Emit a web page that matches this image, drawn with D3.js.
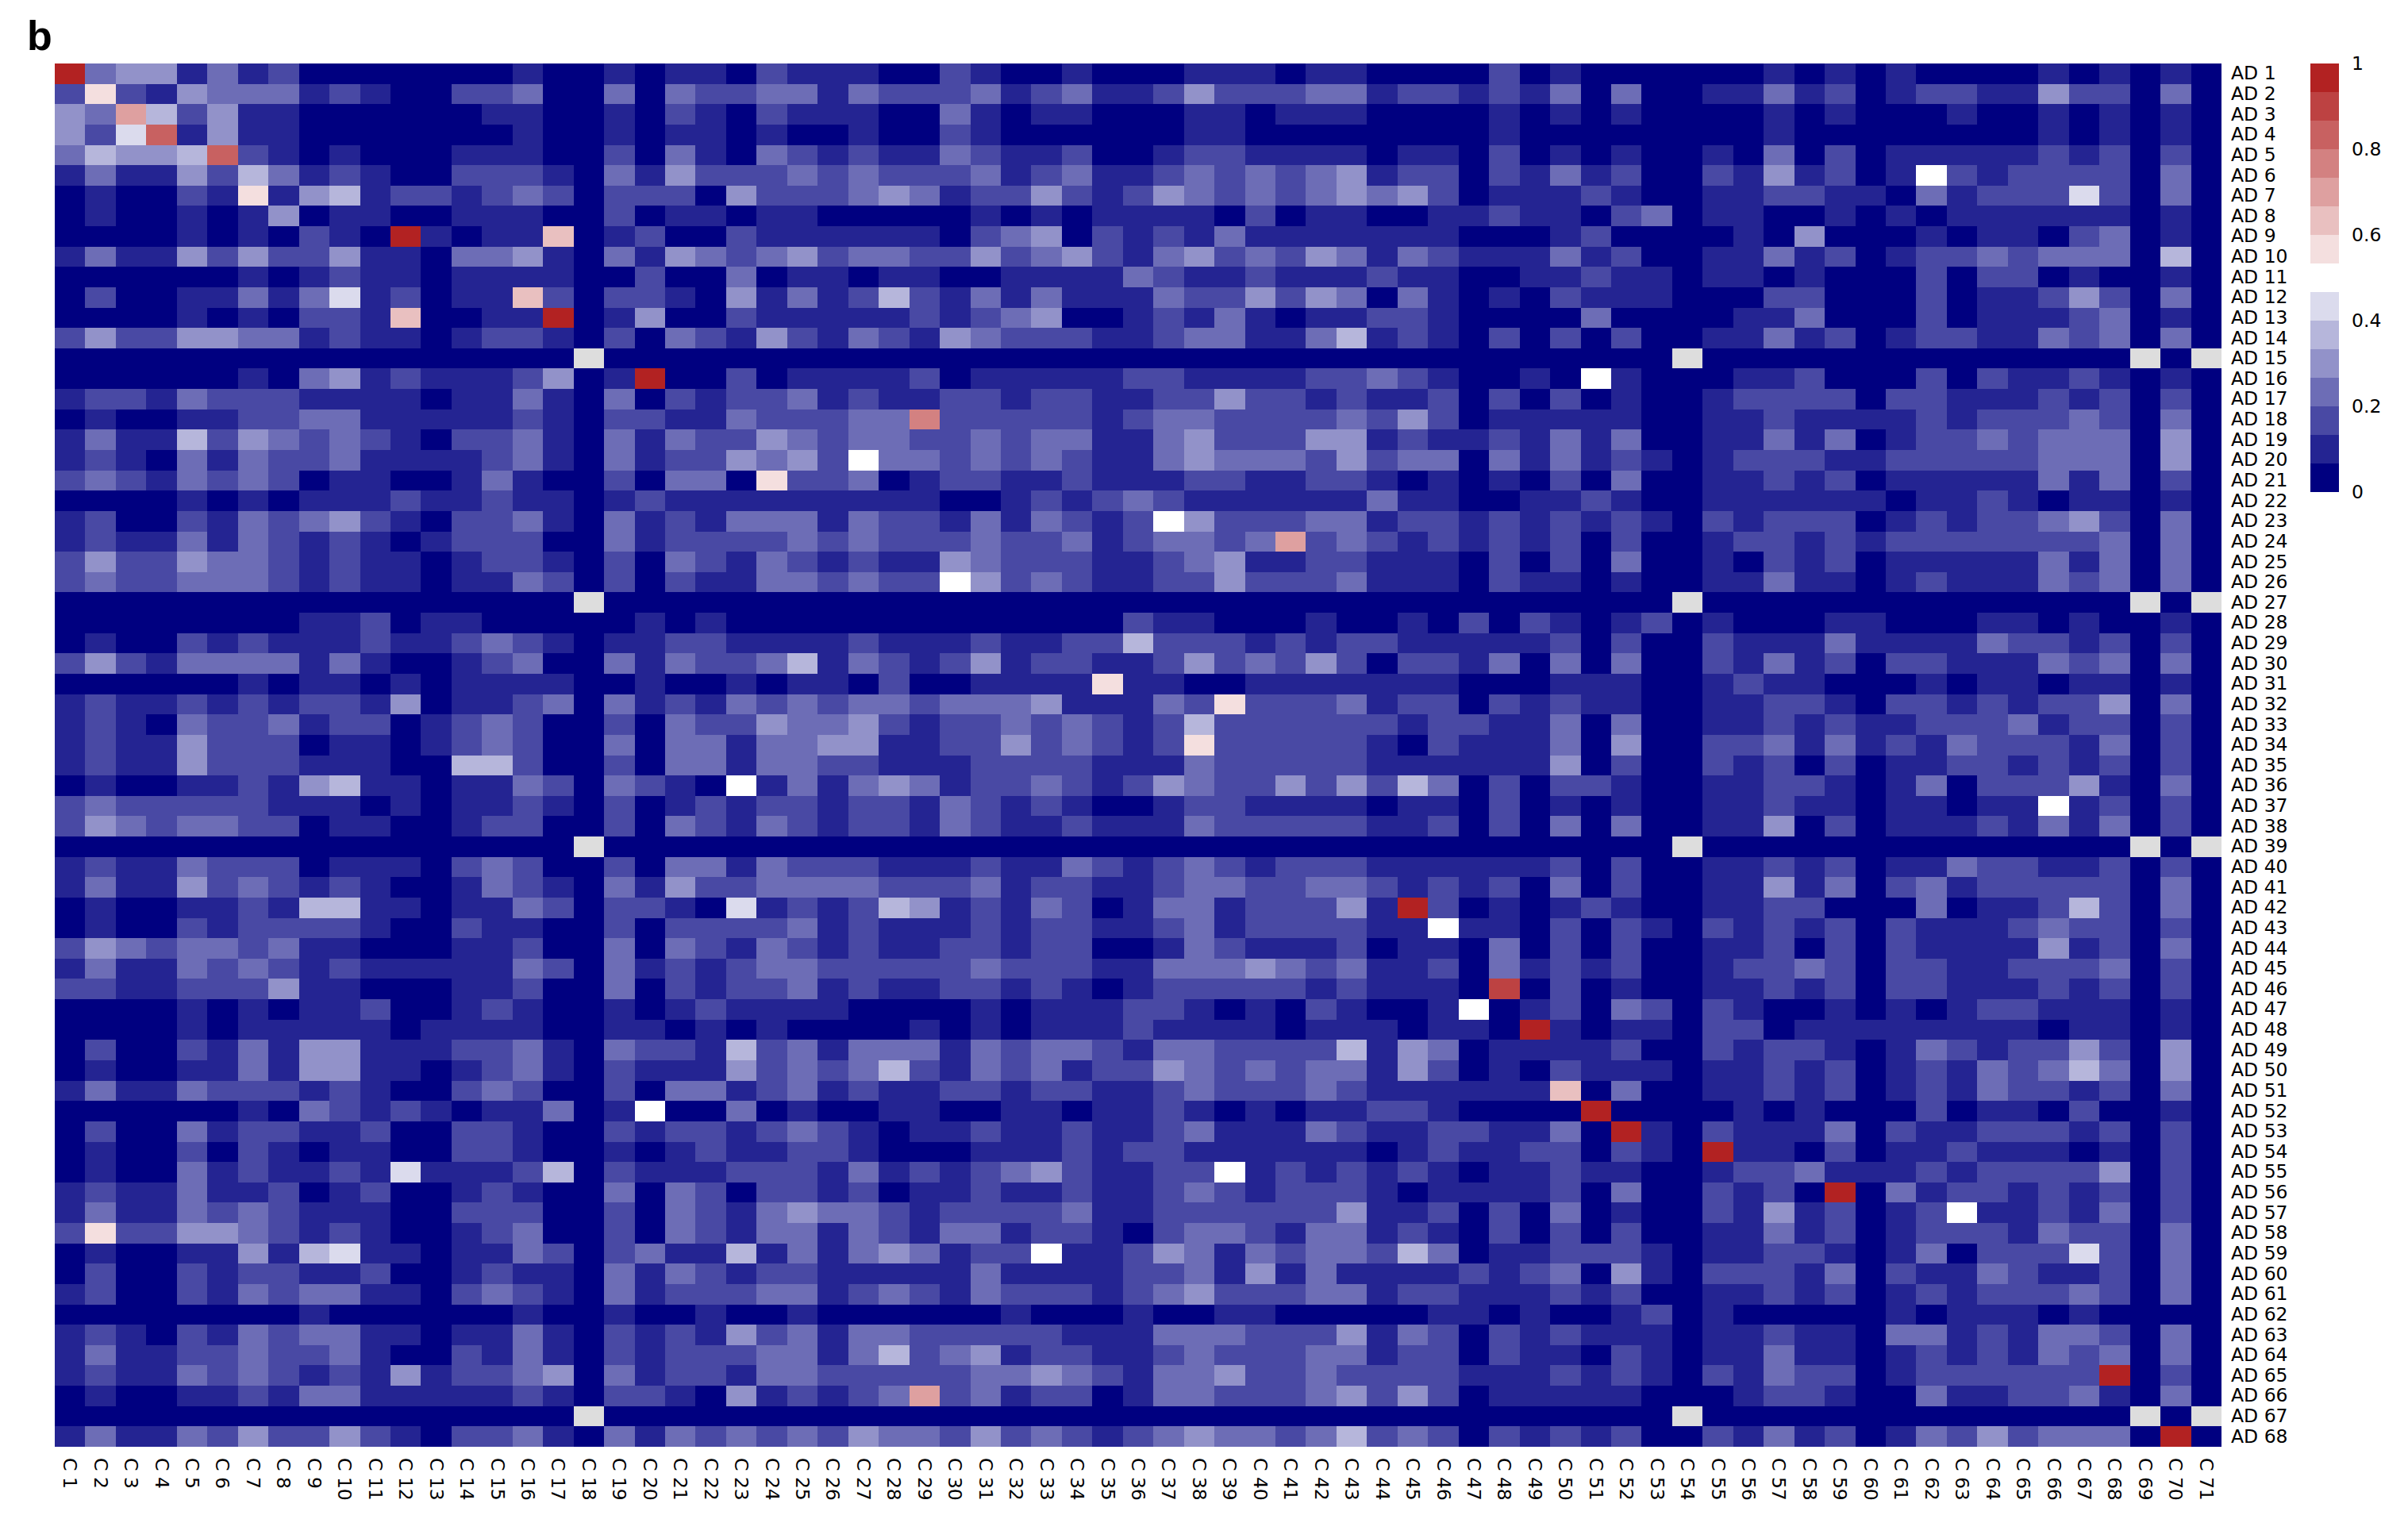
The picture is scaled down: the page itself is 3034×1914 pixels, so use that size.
<!DOCTYPE html>
<html>
<head>
<meta charset="utf-8">
<title>b</title>
<script src="https://cdn.jsdelivr.net/npm/d3@7"></script>
<style>
body { margin: 0; background: #fff; }
svg text { font-family: "DejaVu Sans", sans-serif; fill: #000; }
</style>
</head>
<body>
<svg id="chart" width="3034" height="1914"></svg>
<script>
// one string per AD row, one character per C column: the colour bin read off the
// legend (0-9, a-e = 15 equal bins from 0 to 1), x = no value (grey). spaces only group by ten.
var rowLevels = [
"e344131200 0000010010 1102111002 1001000111 0110000201 0000001010 10000101010",
"2821433312 1002230030 3223313222 3123112422 2331221213 0300113120 12211422030",
"43a5241100 0000110010 2102111003 1011000110 1110000101 0100001010 00100101010",
"426c141100 0000010010 1101001002 1000000110 0000000100 0000001000 00000101010",
"35445c2101 0001110020 3103212113 2112001221 1110110201 0100103020 11111212020",
"1311425312 1002221031 4222323222 3123112323 2341220213 1200214120 17212222030",
"0100218145 1221232022 2042223431 2242124323 2343420111 2100112211 03122262030",
"0100101401 1001110020 1101100000 1010111102 0110011211 0230110010 10111111010",
"0000101021 0e10119012 0021111110 2340212131 1111110001 2000010400 01011023010",
"1311424224 1103341031 4323423322 4234213423 2431321113 1200113120 12232333050",
"0000001012 1101111002 0030110110 0111132112 1112110011 2110110100 02022010010",
"0200113136 1201192022 1041312521 3131113224 2430310102 1110002200 02011242030",
"0000101022 190011e014 0021111121 2340012131 0112210000 3000011300 02011123010",
"2422443312 1101221020 3214213214 3222112331 1351210202 0200113120 12211323030",
"0000000000 0000000x00 0000000000 0000000000 0000000000 000x000000 00000000x0x",
"0000001034 121112401e 0020111120 1111122111 1223210010 7100011200 02021121010",
"1221322211 1101131030 2122312112 2122112242 2121120202 0100122220 22111212020",
"0100112233 1111121022 11322233b2 2222123322 2232420111 1100112111 12122232030",
"1311524323 2102231031 3224323322 3233113422 2441211213 1300113130 12232333040",
"1210313223 1111231031 2243427332 3232113433 3242330313 1210122211 22222333040",
"2321323201 1001310020 3308223012 2112111221 1221010102 0300112120 11111313020",
"0000101011 1211211012 1111111110 0121232111 1113110011 2100111111 01121011010",
"1200213234 2102231031 2133313221 3132127422 2331221212 1210212220 12122342030",
"1211313212 1012220031 2222323222 3223123323 a232121212 0200122121 22222223030",
"2422433212 1101221020 3213212114 3222112341 1221110202 0300102120 11111313030",
"2322333212 1101132020 2113323227 4232112242 2231110211 0100113110 12111323030",
"0000000000 0000000x00 0000000000 0000000000 0000000000 000x000000 00000000x0x",
"0000000011 2011000001 0100000000 0000021100 0100102021 0120100011 00011010010",
"0100212111 2112321011 2211112111 2112252221 2122111112 0200211131 11132212020",
"2421333313 1001230031 3223513212 4122112423 2420221303 0300213120 22111323030",
"0000001011 0101111001 0010110200 1111811001 1111110001 1100121100 01011011010",
"1211212122 1401123031 2132323323 3341113282 2231220212 1100112210 22121224030",
"1210322312 2012320020 3224334212 2323212522 2222122113 0300112121 12223122020",
"1211422201 1012320030 3313344112 2423212822 2221021113 0400223131 21322213020",
"1211422211 1005520020 3313322111 2222111322 2221111114 0200212020 11221212020",
"0100112145 1101132032 1071313431 2232124322 4242530202 2100112210 13022241030",
"2322222111 0101121020 1212212213 2121001221 1110110201 0100112110 11011712020",
"2432332201 1001220020 3213212213 2112111322 2221120203 0300114020 11121313020",
"0000000000 0000000x00 0000000000 0000000000 0000000000 000x000000 00000000x0x",
"1211322201 1102320020 3313222111 2113212321 2221111112 0200112120 11322112020",
"1311423212 1001321031 4223333222 3122112332 2332121203 0200114130 23122222030",
"0100112155 1101132022 1061212541 2132013312 2241e20101 2100112200 03011252030",
"0100212222 1002110020 2222312111 2122112312 2221171102 0210212120 21112322020",
"2432332311 0001120030 3213212112 2122001321 1120110302 0200112020 21111412030",
"1311323212 1111132031 2123322222 3222113334 3231120312 1200122320 22112223020",
"2211222411 0001120030 2122312112 2121012222 2121110d02 0100112120 22111212020",
"0000101011 2001210010 1211110000 1011122101 0210017012 0320210010 10122111010",
"0000101111 1011110011 0101000010 1011121111 01110110e1 0110220111 11111011010",
"0200213144 1112231032 2152313331 3233213322 2251430111 1200212210 13212242040",
"0100113144 1101231021 1142323521 3231224323 2331420102 1110112120 12132353040",
"1311322212 1002320020 3312312112 2122112322 2321111119 0300112120 12132212030",
"0000001032 1210113017 0030100110 0110112101 0112210000 e000010100 02011020010",
"0200312211 2002210021 2212321011 2112112311 1321122113 0e10211130 21122212020",
"0100202101 1002210010 1211221000 1112122111 1110121122 0210e11020 11211101020",
"0100312112 1611125021 1122213121 2342112271 2121210112 1100122311 12122224020",
"1211311201 2001210030 3202212011 2112112321 2221011112 03002120e0 31221212020",
"1311323211 1002220020 3213433212 2223112222 2241120203 0100214120 12711213020",
"2822443212 1001230020 3213313213 3122102332 1331210202 0200113120 12221322030",
"0100114156 1101132023 1151313431 2271124313 2332530112 2210112210 13022262030",
"0200212211 2001211031 3212211111 3111122314 1311112123 0410222130 21132112030",
"1200213233 1102321031 2223312321 3222123422 2331221112 1200112120 12122232030",
"0000000010 0000010010 0100100000 0100010011 0000011010 0120100000 10111010000",
"1210213233 1101131021 2142313322 2221113332 2241320212 1110112110 33121332030",
"1311223223 1002131021 2223313523 4122112322 2331220211 0210113110 12121323030",
"1211323212 1412234031 2213322222 3343213342 2322221112 1210213220 1222222e020",
"0100112133 1111121022 10412123a2 3122013322 2342420111 1100012210 03112231030",
"0000000000 0000000x00 0000000000 0000000000 0000000000 000x000000 00000000x0x",
"1311324224 2102231031 3232324332 4232123433 2352320212 1200213120 132423330e0"
];

var adLabels = d3.range(1, 69).map(function(d) { return "AD " + d; });
var cLabels = d3.range(1, 72).map(function(d) { return "C " + d; });
var legendTicks = [0, 0.2, 0.4, 0.6, 0.8, 1];
var numBins = 15;

// navy - white - firebrick, 15 steps like the legend
var binColours = d3.quantize(d3.piecewise(d3.interpolateRgb, ["#000080", "#ffffff", "#b22222"]), numBins);
var colour = d3.scaleQuantize().domain([0, 1]).range(binColours);
var naColour = "#dddddd";

var cells = [];
rowLevels.forEach(function(row, i) {
    row.replace(/ /g, "").split("").forEach(function(ch, j) {
        cells.push({
            row: adLabels[i],
            col: cLabels[j],
            value: ch == "x" ? null : (parseInt(ch, 16) + 0.5) / numBins
        });
    });
});

var svg = d3.select("#chart");

var x = d3.scaleBand().domain(cLabels).range([69, 2799]);
var y = d3.scaleBand().domain(adLabels).range([80, 1823]);

svg.append("g")
    .attr("shape-rendering", "crispEdges")
    .selectAll("rect")
    .data(cells)
    .join("rect")
    .attr("x", function(d) { return x(d.col); })
    .attr("y", function(d) { return y(d.row); })
    .attr("width", x.bandwidth())
    .attr("height", y.bandwidth())
    .attr("fill", function(d) { return d.value === null ? naColour : colour(d.value); });

// row labels on the right, column labels turned to read downwards
var rowAxis = svg.append("g")
    .attr("transform", "translate(2799,0)")
    .call(d3.axisRight(y).tickSize(0).tickPadding(12));
rowAxis.select(".domain").remove();
rowAxis.selectAll("text").attr("font-size", 23.5);

var colAxis = svg.append("g")
    .attr("transform", "translate(0,1823)")
    .call(d3.axisBottom(x).tickSize(0));
colAxis.select(".domain").remove();
colAxis.selectAll("text")
    .attr("font-size", 23.5)
    .attr("text-anchor", "start")
    .attr("dy", null)
    .attr("y", null)
    .attr("transform", "translate(-8,14) rotate(90)");

// legend, 15 blocks between 0 and 1
var legendY = d3.scaleLinear().domain([0, 1]).range([620, 80]);

svg.append("g")
    .attr("shape-rendering", "crispEdges")
    .selectAll("rect")
    .data(binColours)
    .join("rect")
    .attr("x", 2911)
    .attr("y", function(d, i) { return legendY((i + 1) / numBins); })
    .attr("width", 36)
    .attr("height", function(d, i) { return legendY(i / numBins) - legendY((i + 1) / numBins); })
    .attr("fill", function(d) { return d; });

var legendAxis = svg.append("g")
    .attr("transform", "translate(2947,0)")
    .call(d3.axisRight(legendY).tickValues(legendTicks).tickFormat(d3.format("~g")).tickSize(0).tickPadding(16));
legendAxis.select(".domain").remove();
legendAxis.selectAll("text").attr("font-size", 23.5);

svg.append("text")
    .attr("x", 34)
    .attr("y", 63)
    .attr("font-size", 52)
    .attr("font-weight", "bold")
    .style("font-family", "'Liberation Sans', sans-serif")
    .text("b");
</script>
</body>
</html>
